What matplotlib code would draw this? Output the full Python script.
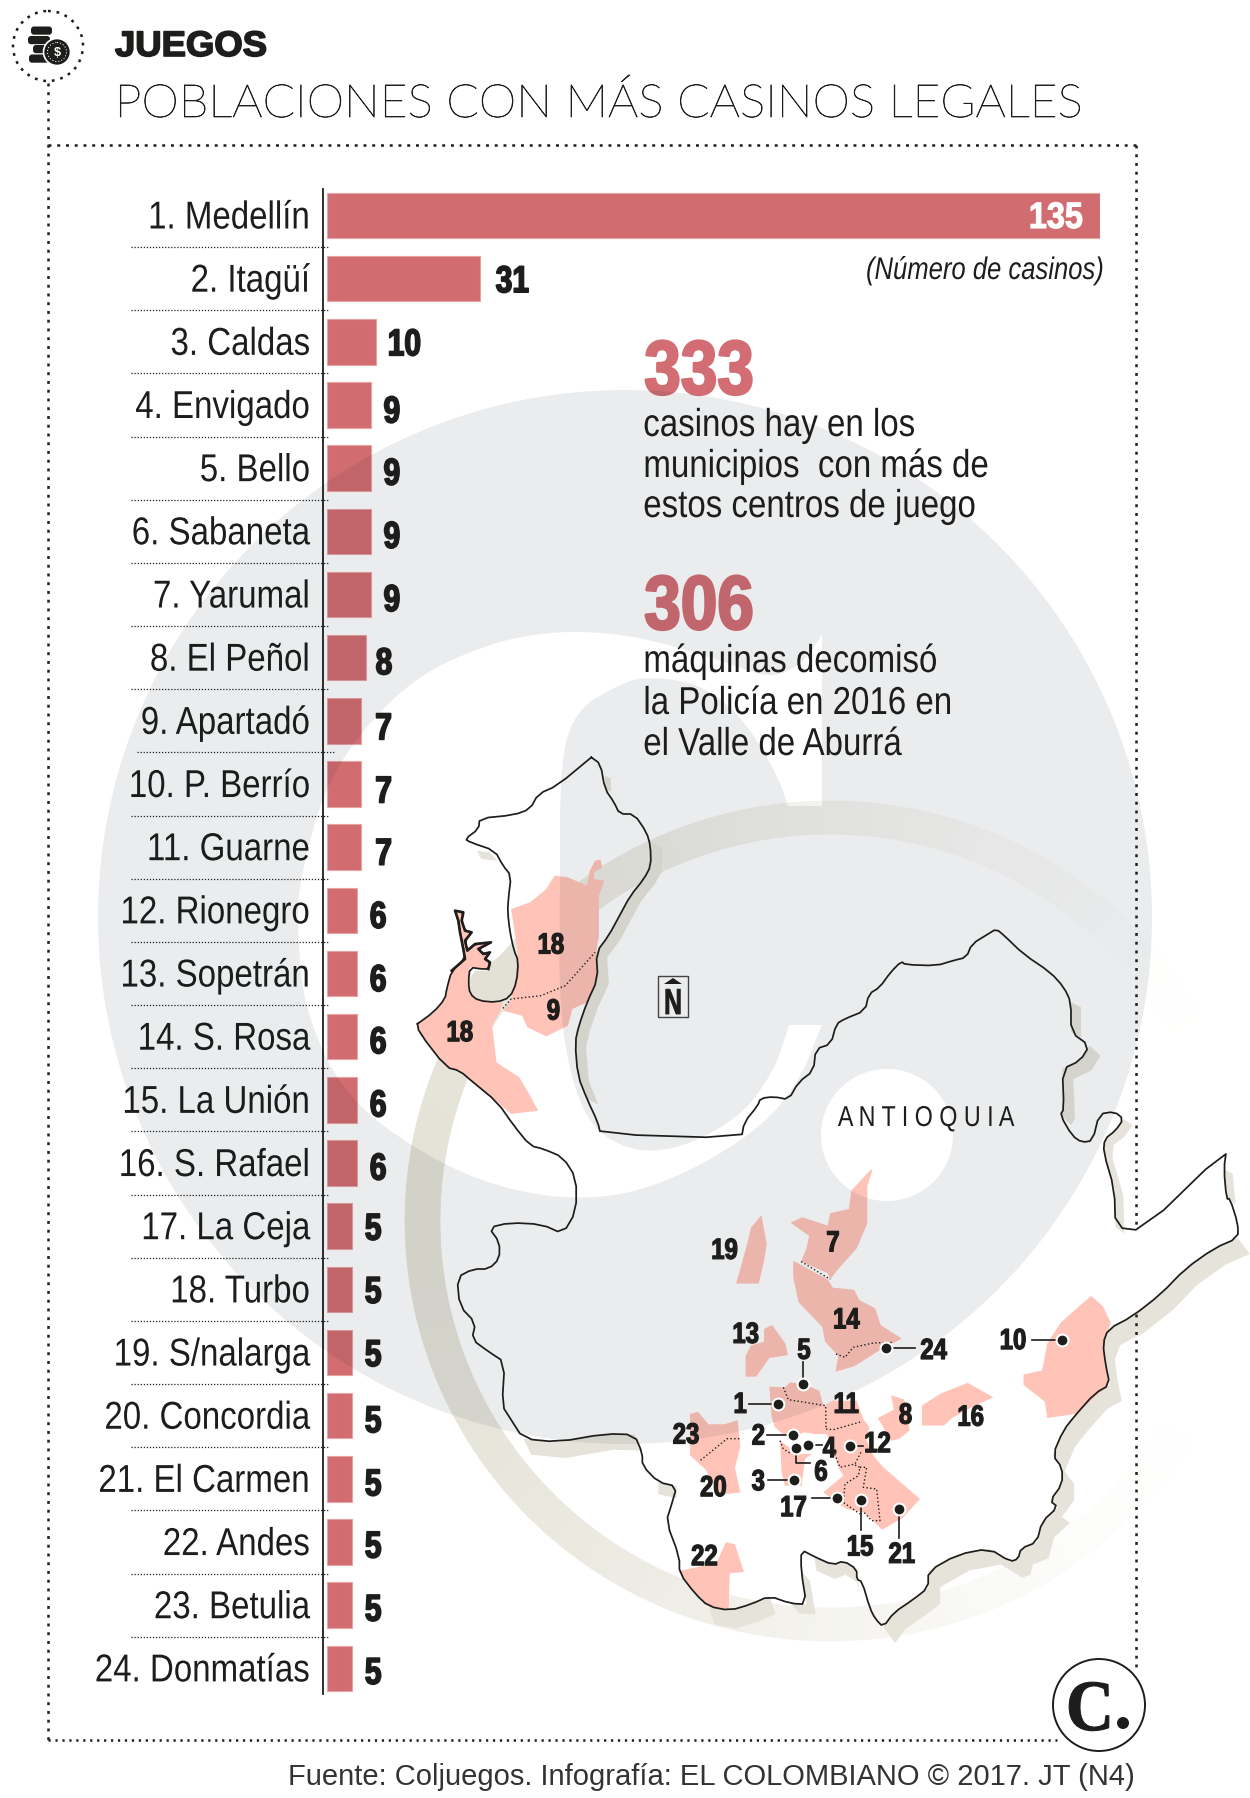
import numpy as np
import matplotlib
matplotlib.use("Agg")
import matplotlib.pyplot as plt
import matplotlib.patheffects as pe
from matplotlib.path import Path
from matplotlib.patches import PathPatch, Polygon, Ellipse, FancyBboxPatch, Rectangle, Circle
from matplotlib.collections import PolyCollection
from matplotlib.transforms import ScaledTranslation, Affine2D

plt.rcParams['lines.scale_dashes'] = False

# ---------- data ----------
towns = ["1. Medellín", "2. Itagüí", "3. Caldas", "4. Envigado", "5. Bello", "6. Sabaneta",
         "7. Yarumal", "8. El Peñol", "9. Apartadó", "10. P. Berrío", "11. Guarne", "12. Rionegro",
         "13. Sopetrán", "14. S. Rosa", "15. La Unión", "16. S. Rafael", "17. La Ceja", "18. Turbo",
         "19. S/nalarga", "20. Concordia", "21. El Carmen", "22. Andes", "23. Betulia", "24. Donmatías"]
casinos = [135, 31, 10, 9, 9, 9, 9, 8, 7, 7, 7, 6, 6, 6, 6, 6, 5, 5, 5, 5, 5, 5, 5, 5]

# ---------- layout ----------
W, H = 1250, 1799
SANS = 'Liberation Sans'
INK = '#1d1d1b'
BAR = '#D16C70'
row_dy = [0, 0, 0, 4, 3, 3, 3, 3, 5, 5, 4, 4, 4, 3, 3, 3, 0, 0, 0, 3, 3, 2, 2, 2]
val_gap = {31: 16, 10: 11, 9: 12, 8: 9, 7: 13.5, 6: 13, 5: 13}

fig = plt.figure(figsize=(W / 100, H / 100), dpi=100, facecolor='white')


class Squeeze(pe.AbstractPathEffect):
    """Draw real text narrower (no condensed face is installed), optionally thickened."""

    def __init__(self, sx, anchor='left', stroke=0.0):
        super().__init__()
        self.sx, self.anchor, self.stroke = sx, anchor, stroke

    def draw_path(self, renderer, gc, tpath, affine, rgbFace=None):
        e = tpath.get_extents(affine)
        fix = {'left': e.x0, 'center': 0.5 * (e.x0 + e.x1), 'right': e.x1}[self.anchor]
        aff = affine + Affine2D().translate(-fix, 0).scale(self.sx, 1).translate(fix, 0)
        if self.stroke:
            g = renderer.new_gc()
            g.copy_properties(gc)
            g.set_linewidth(self.stroke)
            g.set_foreground(rgbFace)
            renderer.draw_path(g, tpath, aff, rgbFace)
            g.restore()
        else:
            renderer.draw_path(gc, tpath, aff, rgbFace)


def px_axes(z):
    a = fig.add_axes([0, 0, 1, 1], zorder=z)
    a.set_xlim(0, W)
    a.set_ylim(H, 0)
    a.axis('off')
    a.patch.set_visible(False)
    return a


ax_under = px_axes(1)
ax_over = px_axes(3)
ax_top = px_axes(4)


def z2(p):
    p = np.array(p, float)
    return np.c_[400 + p[:, 0] / 1.845, 740 + p[:, 1] / 3]


def z3(p):
    p = np.array(p, float)
    return np.c_[420 + p[:, 0] / 1.889, 1150 + p[:, 1] / 2.416]


def cz(p):
    p = np.array(p, float)
    return np.c_[660 + p[:, 0] / 3, 1340 + p[:, 1] / 3]


def dz(p):
    p = np.array(p, float)
    return np.c_[410 + p[:, 0] / 3, 900 + p[:, 1] / 3]


def chaikin(p, n=1):
    p = np.array(p, float)
    for _ in range(n):
        r, q = p[:-1], p[1:]
        mid = np.empty((2 * len(r), 2))
        mid[0::2] = 0.75 * r + 0.25 * q
        mid[1::2] = 0.25 * r + 0.75 * q
        p = np.vstack([p[0], mid, p[-1]])
    return p


# ---------- beige ring ----------
n = 240
th = np.linspace(0, 2 * np.pi, n + 1)
cx, cy = 830, 1222
polys, cols = [], []
beige = np.array(matplotlib.colors.to_rgb('#E4E2D6'))
for t0, t1 in zip(th[:-1], th[1:]):
    q = [(cx + 425 * np.cos(t0), cy + 420 * np.sin(t0)), (cx + 425 * np.cos(t1), cy + 420 * np.sin(t1)),
         (cx + 390 * np.cos(t1), cy + 387 * np.sin(t1)), (cx + 390 * np.cos(t0), cy + 387 * np.sin(t0))]
    xm = cx + 407 * np.cos(t0)
    a = np.clip(1.0 - (xm - 405) / 800, 0, 1) ** 1.2
    polys.append(q)
    cols.append(tuple(1 - a * (1 - beige)))
ax_under.add_collection(PolyCollection(polys, facecolors=cols, edgecolors=cols, linewidths=0.5))

# ---------- map geometry ----------
delta_coast = dz([(22, 375), (70, 340), (105, 300), (110, 270), (125, 215), (165, 180), (160, 150), (150, 100),
                  (145, 65), (135, 35), (160, 40), (155, 65), (165, 95), (185, 100), (165, 125), (172, 155),
                  (195, 135), (243, 130), (205, 150), (220, 165), (240, 160), (225, 180), (240, 190), (235, 210),
                  (215, 210), (180, 205), (175, 250), (180, 285), (205, 305), (260, 310)])
bay_east = dz([(300, 295), (320, 250), (325, 185), (312, 155), (300, 100), (293, 40), (295, 0)])
outline = np.vstack([
    z2([(353, 55), (370, 75), (378, 150), (395, 190), (405, 225), (432, 225), (455, 280), (462, 320), (463, 380),
        (450, 420), (425, 470), (405, 530), (385, 590), (362, 640), (365, 720), (345, 790), (330, 860), (323, 910),
        (328, 1010), (345, 1080), (365, 1150), (370, 1185), (630, 1198), (635, 1150), (660, 1100), (665, 1078),
        (690, 1073), (717, 1082), (735, 1030), (763, 995), (767, 930), (795, 915), (805, 855), (820, 840), (858, 815),
        (865, 765), (885, 745), (905, 700), (925, 667), (932, 677), (990, 680), (1020, 665), (1045, 655), (1055, 615),
        (1085, 585), (1100, 570), (1115, 590), (1150, 645), (1200, 700), (1225, 745), (1238, 790), (1238, 880),
        (1272, 920), (1255, 965), (1222, 990), (1225, 1110), (1218, 1128), (1240, 1190), (1258, 1210), (1278, 1205),
        (1290, 1125), (1318, 1118), (1335, 1140), (1320, 1175), (1300, 1200), (1298, 1240), (1318, 1350), (1320, 1465),
        (1370, 1475), (1525, 1230), (1520, 1290), (1525, 1380)]),
    z3([(1530, 120), (1545, 180), (1545, 215), (1500, 240), (1445, 290), (1400, 350), (1345, 405), (1300, 435),
        (1290, 470), (1295, 520), (1303, 570), (1275, 590), (1240, 640), (1215, 680), (1195, 740), (1213, 770),
        (1213, 810), (1190, 850), (1205, 865), (1175, 900), (1165, 950), (1135, 965), (1130, 990), (1115, 997),
        (1075, 965), (1015, 980), (960, 1020), (960, 1060), (930, 1090), (895, 1120), (875, 1155), (860, 1135),
        (850, 1110), (835, 1045), (825, 1040), (825, 1015), (800, 995), (780, 1005), (745, 985), (720, 968), (720, 1020),
        (730, 1100), (700, 1098), (660, 1080), (625, 1100), (585, 1115), (545, 1105), (520, 1075), (490, 1025),
        (490, 985), (465, 900), (475, 860), (485, 815), (450, 805), (420, 765), (420, 735), (405, 690), (350, 688),
        (260, 708), (195, 700), (170, 650), (155, 620), (160, 515), (130, 490), (98, 460), (105, 420), (75, 380),
        (70, 310), (100, 290), (130, 290), (150, 265), (150, 225), (130, 190), (170, 178), (230, 182), (270, 205),
        (295, 150), (295, 70), (270, 20)]),
    z2([(265, 1230), (240, 1220), (210, 1160), (180, 1090), (135, 1030), (110, 995), (85, 985), (35, 880), (32, 853)]),
    delta_coast, bay_east,
    z2([(205, 410), (190, 380), (175, 335), (130, 310), (120, 300), (145, 270), (147, 238), (210, 228), (240, 210),
        (255, 165), (290, 140), (353, 55)]),
])

pink_regions = [
    z2([(370, 362), (373, 385), (358, 400), (358, 420), (377, 425), (367, 470), (367, 590), (362, 640), (365, 720),
        (345, 790), (318, 810), (310, 860), (270, 892), (235, 865), (225, 830), (190, 815), (205, 780), (213, 720),
        (218, 650), (205, 510), (240, 490), (270, 450), (285, 410), (310, 415), (345, 440), (350, 395), (360, 365)]),
    np.vstack([delta_coast,
               z2([(190, 790), (185, 815), (170, 860), (178, 970), (220, 1015), (240, 1070), (255, 1115), (205, 1125),
                   (180, 1090), (135, 1030), (110, 995), (85, 985), (35, 880)])]),
    z3([(855, 50), (845, 90), (845, 180), (825, 240), (790, 290), (775, 315), (770, 300), (720, 272), (730, 240),
        (735, 210), (700, 178), (722, 165), (770, 185), (775, 155), (810, 145), (815, 100), (850, 52)]),
    z3([(705, 270), (770, 315), (780, 335), (820, 340), (830, 365), (860, 385), (870, 425), (910, 458), (870, 485),
        (820, 525), (785, 538), (790, 500), (765, 465), (760, 430), (715, 370), (705, 310)]),
    z3([(645, 160), (655, 230), (650, 270), (640, 325), (597, 325), (605, 290), (620, 220), (625, 190)]),
    z3([(665, 425), (690, 470), (695, 498), (660, 505), (635, 550), (615, 550), (615, 500), (625, 475), (650, 465),
        (650, 435)]),
    cz([(328, 143), (375, 145), (390, 130), (430, 135), (478, 155), (490, 200), (520, 185), (590, 185), (610, 240),
        (628, 265), (618, 300), (640, 350), (670, 385), (780, 480), (730, 535), (680, 565), (665, 572), (640, 545),
        (610, 520), (560, 510), (530, 490), (490, 460), (550, 410), (535, 385), (520, 335), (500, 285), (465, 285),
        (430, 280), (400, 300), (375, 290), (345, 265), (335, 235)]),
    cz([(360, 305), (415, 345), (455, 345), (435, 360), (425, 440), (375, 440), (365, 400)]),
    z3([(510, 640), (525, 635), (545, 665), (575, 665), (600, 655), (605, 720), (595, 770), (605, 830), (565, 835),
        (540, 775), (510, 740)]),
    z3([(890, 595), (915, 605), (925, 680), (905, 700), (890, 705), (865, 650), (895, 630)]),
    z3([(948, 620), (985, 590), (1035, 565), (1083, 600), (1040, 625), (1005, 650), (990, 668), (948, 668)]),
    z3([(1268, 355), (1290, 380), (1305, 420), (1290, 470), (1300, 570), (1240, 640), (1185, 650), (1180, 610),
        (1140, 570), (1140, 545), (1175, 535), (1185, 470), (1210, 420), (1245, 380)]),
    z3([(578, 950), (595, 955), (612, 1022), (585, 1025), (583, 1115), (545, 1105), (520, 1075), (488, 1020),
        (560, 1000)]),
]

shadow_sections = [
    (z2([(463, 310), (463, 380), (450, 420), (425, 470), (405, 530), (385, 590), (362, 640), (365, 720), (345, 790),
         (330, 860), (323, 910), (328, 1010), (345, 1080)]), 11, 5),
    (z3([(1545, 215), (1500, 240), (1445, 290), (1400, 350), (1345, 405), (1300, 435), (1290, 470), (1295, 520),
         (1303, 570), (1275, 590), (1240, 640), (1215, 680), (1195, 740), (1213, 770), (1213, 810), (1190, 850),
         (1205, 865), (1175, 900), (1165, 950), (1135, 965), (1130, 990), (1115, 997), (1075, 965), (1015, 980),
         (960, 1020), (960, 1060), (930, 1090), (895, 1120), (875, 1155)]), 12, 16),
    (z3([(720, 1020), (730, 1100), (700, 1098)]), 9, 10),
    (z3([(825, 1040), (825, 1015), (800, 995), (780, 1005), (745, 985)]), 2, 14),
    (z3([(660, 1080), (625, 1100), (585, 1115), (545, 1105)]), 6, 18),
    (z3([(405, 690), (350, 688), (260, 708), (195, 700)]), 8, 16),
    (z3([(485, 815), (450, 805)]), 0, 12),
    (z2([(1238, 790), (1238, 880)]), 10, 5),
    (z2([(1272, 920), (1255, 965), (1222, 990), (1225, 1110), (1218, 1128)]), 11, 10),
    (z2([(1335, 1140), (1320, 1175), (1300, 1200), (1298, 1240), (1318, 1350), (1320, 1465)]), 9, 6),
    (z2([(1520, 1290), (1525, 1380)]), 9, 5),
    (z2([(378, 110), (378, 150), (395, 165)]), 6, 3),
]
for sec, dx, dy in shadow_sections:
    ax_under.add_patch(Polygon(np.vstack([sec, (sec + [dx, dy])[::-1]]), closed=True, fc='#E6E4DA', ec='none'))
# sheltered bay and islet
ax_under.add_patch(Polygon(dz([(300, 140), (320, 170), (322, 250), (300, 290), (255, 305), (205, 300), (180, 280),
                               (178, 240), (195, 215), (235, 215), (245, 190), (270, 170)]),
                           closed=True, fc='#E3E1D6', ec='none'))
ax_under.add_patch(Polygon(z2([(142, 335), (165, 340), (180, 365), (150, 360)]), closed=True, fc='#E6E4DA', ec='none'))

for reg in pink_regions:
    ax_under.add_patch(Polygon(reg, closed=True, fc='#FFC3B8', ec='none'))

# big figures sit under the grey veil so they darken over it
for txt, yb in (("333", 395), ("306", 630)):
    ax_under.text(644, yb, txt, family=SANS, weight='bold', fontsize=55, color='#D26E73', va='baseline', ha='left',
                  path_effects=[Squeeze(0.86, 'left', 1.8)])

# ---------- bars ----------
bar_left = 327.0
bar_w = 773.0
row0, pitch = 216.5, 63.17
top = row0 - pitch / 2
bot = row0 + 23.5 * pitch
ax_bar = fig.add_axes([bar_left / W, 1 - bot / H, bar_w / W, (bot - top) / H], zorder=2)
ax_bar.patch.set_visible(False)
# the Medellín bar is drawn out of scale in the source: piecewise-linear value axis
vv = [0, 31, 135]
pp = [0, 152.5, 773]
ax_bar.set_xscale('function', functions=(lambda x: np.interp(x, vv, pp), lambda p: np.interp(p, pp, vv)))
y = np.arange(len(towns))
ax_bar.barh(y, casinos, left=0, height=0.72, color=BAR, edgecolor='#E9A3A3', linewidth=0.8)
ax_bar.set_xlim(0, 135)
ax_bar.set_ylim(23.5, -0.5)
for s in ('top', 'right', 'bottom'):
    ax_bar.spines[s].set_visible(False)
sp = ax_bar.spines['left']
sp.set_linewidth(1.3)
sp.set_color(INK)
sp.set_position(('outward', 3.6 * 0.72))
sp.set_bounds(-0.42, 23.4)
ax_bar.set_xticks([])
ax_bar.set_yticks(y, towns, family=SANS, fontsize=28, color=INK)
ax_bar.tick_params(axis='y', length=0, pad=9.6)
shift = ScaledTranslation(0, -13 / 100, fig.dpi_scale_trans)
for lab in ax_bar.get_yticklabels():
    lab.set_verticalalignment('baseline')
    lab.set_transform(lab.get_transform() + shift)
    lab.set_path_effects([Squeeze(0.85, 'right')])

# separators between rows
for i in range(23):
    yy = row0 + (i + 0.5) * pitch
    x0 = 137 if i == 8 else 131
    ax_top.plot([x0, x0 + 198], [yy, yy], color=INK, lw=0.9, ls=(0, (0.9, 1.3)))

# value labels
ax_top.annotate(str(casinos[0]), xy=(135, 0), xycoords=ax_bar.transData, xytext=(-17 * .72, -12.5 * .72),
                textcoords='offset points', ha='right', va='baseline', family=SANS, weight='bold',
                fontsize=26.5, color='white', path_effects=[Squeeze(0.88, 'right', 0.8)])
for i, (v, dy) in enumerate(zip(casinos, row_dy)):
    if i == 0:
        continue
    ax_top.annotate(str(v), xy=(v, i), xycoords=ax_bar.transData,
                    xytext=(val_gap[v] * .72, -(13.5 + dy) * .72), textcoords='offset points',
                    ha='left', va='baseline', family=SANS, weight='bold', fontsize=27, color=INK,
                    path_effects=[Squeeze(0.8, 'left', 1.2)])

# ---------- grey logo veil ----------
cc = 527
t = np.linspace(0, 2 * np.pi, 361)
disc = np.c_[625 + cc * np.cos(t), 918 + cc * np.sin(t)]
c_outer = chaikin([(822, 635), (807, 660), (780, 677), (757, 675), (707, 657), (640, 638), (583, 632), (533, 635),
                   (483, 647), (417, 677), (360, 733), (323, 793), (300, 880), (297, 925), (304, 1011),
                   (345, 1098), (422, 1155), (498, 1189), (584, 1202), (660, 1187), (747, 1140), (796, 1090),
                   (822, 1026)], 2)
c_inner = chaikin([(789, 1026), (774, 1073), (736, 1123), (660, 1157), (600, 1140), (573, 1090), (559, 1007),
                   (560, 900), (560, 760), (577, 710), (617, 687), (640, 678), (690, 682), (727, 703), (757, 740),
                   (780, 783), (788, 807)], 2)
c_shape = np.vstack([c_outer, c_inner, [(822, 807)], [(822, 635)]])
dot = np.c_[887 + 66 * np.cos(t), 1136 + 66 * np.sin(t)]


def area(p):
    return 0.5 * np.sum(p[:, 0] * np.roll(p[:, 1], -1) - np.roll(p[:, 0], -1) * p[:, 1])


def orient(p, sign):
    return p if np.sign(area(p)) == sign else p[::-1]


verts, codes = [], []
for p in (orient(disc, 1), orient(c_shape, -1), orient(dot, -1)):
    verts += list(p) + [p[0]]
    codes += [Path.MOVETO] + [Path.LINETO] * (len(p) - 1) + [Path.CLOSEPOLY]
ax_over.add_patch(PathPatch(Path(verts, codes), fc=(8 / 255, 20 / 255, 43 / 255, 0.08), ec='none'))

# ---------- map lines ----------
ax_top.plot(*chaikin(outline, 1).T, color=INK, lw=1.25, solid_joinstyle='round')
ax_top.plot(*delta_coast[4:24].T, color=INK, lw=1.9, solid_joinstyle='round')
dot_ls = dict(color=INK, lw=1.0, ls=(0, (1.0, 1.7)))
for seg in [[(720, 272), (775, 315)], [(530, 752), (580, 700), (605, 700)]]:
    ax_top.plot(*z3(seg).T, **dot_ls)
for seg in [[(528, 45), (555, 55), (580, 25), (640, 12), (700, 10)],
            [(370, 145), (385, 182), (497, 200), (498, 270)],
            [(498, 270), (520, 272), (605, 248)],
            [(360, 305), (370, 330), (395, 345)],
            [(520, 335), (540, 385), (585, 375), (605, 335)],
            [(585, 378), (600, 385), (595, 410), (555, 435), (550, 490), (600, 525)],
            [(600, 385), (620, 385), (610, 445), (650, 450), (660, 545), (635, 545), (612, 520)]]:
    ax_top.plot(*cz(seg).T, **dot_ls)
ax_top.plot(*z2([(190, 808), (205, 780), (260, 770), (305, 740), (360, 640)]).T, **dot_ls)

# markers: label, dot, leader points, label centre
markers_cz = [
    ("1", (353, 195), [(268, 195)], (240, 190)),
    ("2", (398, 288), [(322, 288)], (295, 285)),
    ("3", (401, 422), [(325, 422)], (295, 422)),
    ("4", (443, 318), [(485, 318)], (508, 323)),
    ("5", (430, 135), [(430, 70)], (432, 28)),
    ("6", (408, 328), [(408, 372), (450, 372)], (483, 393)),
    ("12", (570, 320), [(608, 320)], (652, 308)),
    ("15", (604, 484), [(604, 572)], (600, 618)),
    ("17", (530, 476), [(455, 476)], (400, 500)),
    ("21", (717, 509), [(717, 598)], (725, 640)),
]
markers_z3 = [
    ("10", (1212, 462), [(1157, 462)], (1120, 458)),
    ("24", (880, 481), [(935, 481)], (970, 482)),
]
labs = []
for group, conv in ((markers_cz, cz), (markers_z3, z3)):
    for lab, d, leader, pos in group:
        ax_top.plot(*conv([d] + leader).T, color=INK, lw=1.2, zorder=2)
        ax_top.plot(*conv([d]).T, 'o', ms=10, mfc='white', mec='none', zorder=3)
        ax_top.plot(*conv([d]).T, 'o', ms=7, mfc=INK, mec='none', zorder=3)
        labs.append((lab, conv([pos])[0]))
plain_z3 = [("7", (780, 222)), ("8", (917, 638)), ("13", (615, 443)), ("14", (805, 408)),
            ("16", (1040, 643)), ("19", (575, 240))]
plain_cz = [("11", (558, 190)), ("20", (160, 440)), ("22", (133, 647)), ("23", (78, 282))]
plain_z2 = [("18", (278, 612)), ("18", (110, 875)), ("9", (283, 810))]
labs += [(l, z3([p])[0]) for l, p in plain_z3] + [(l, cz([p])[0]) for l, p in plain_cz] + \
        [(l, z2([p])[0]) for l, p in plain_z2]
for l, (xx, yy) in labs:
    ax_top.text(xx, yy + 10.5, l, ha='center', va='baseline', family=SANS, weight='bold', fontsize=21, color=INK,
                path_effects=[Squeeze(0.82, 'center', 0.9)])

ax_top.text(926, 1127, "A N T I O Q U I A", ha='center', va='baseline', family=SANS, fontsize=20.7, color=INK,
            path_effects=[Squeeze(0.81, 'center')])

# north sign
ax_top.add_patch(Rectangle((658, 977), 30, 41, fc='none', ec='#444444', lw=1))
ax_top.add_patch(Polygon([(664, 985), (673, 979), (682, 985)], closed=True, fc=INK, ec='none'))
ax_top.text(673, 1015, "N", ha='center', va='baseline', family=SANS, weight='bold', fontsize=26, color=INK,
            path_effects=[Squeeze(0.68, 'center', 0.6)])

# ---------- right-hand notes ----------
ax_top.text(1104, 280, "(Número de casinos)", ha='right', va='baseline', family=SANS, style='italic', fontsize=22.5,
            color=INK, path_effects=[Squeeze(0.82, 'right')])
notes = [("casinos hay en los", 437), ("municipios  con más de", 478), ("estos centros de juego", 518),
         ("máquinas decomisó", 673), ("la Policía en 2016 en", 715), ("el Valle de Aburrá", 756)]
for s, yb in notes:
    ax_top.text(643, yb, s, ha='left', va='baseline', family=SANS, fontsize=28, color=INK,
                path_effects=[Squeeze(0.85, 'left')])

# ---------- header ----------
ax_top.text(115, 57, "JUEGOS", family=SANS, weight='bold', fontsize=25.5, color=INK, va='baseline',
            path_effects=[Squeeze(1.03, 'left', 1.2)])
ax_top.text(115, 118, "POBLACIONES CON MÁS CASINOS LEGALES", family='Lato', weight='light', fontsize=33, color=INK,
            va='baseline', path_effects=[Squeeze(1.04, 'left', 0.5)])

# icon
ax_top.add_patch(Circle((48, 47), 35, fc='none', ec=INK, lw=1.8, ls=(0, (2.0, 4.2))))
for (x0, y0, w) in [(31, 27.5, 21), (28, 37, 22), (33, 46, 18), (29, 55.5, 21)]:
    ax_top.add_patch(FancyBboxPatch((x0, y0), w, 8.2, boxstyle='round,pad=0,rounding_size=3', fc=INK, ec='none'))
ax_top.add_patch(Circle((57, 53), 13.5, fc=INK, ec='white', lw=1.2))
ax_top.add_patch(Circle((57, 53), 9.5, fc='none', ec='white', lw=0.7, ls=(0, (0.8, 1.4))))
ax_top.text(57, 53, "$", ha='center', va='center', family=SANS, weight='bold', fontsize=9, color='white')

# frame
dash = (0, (2.1, 4.2))
for xs, ys in [([48, 48], [84, 1741]), ([48, 1136], [145.5, 145.5]), ([1136, 1136], [145.5, 1227]),
               ([1136, 1136], [1315, 1669])]:
    ax_top.plot(xs, ys, color=INK, lw=1.8, ls=dash, dash_capstyle='butt')
ax_top.plot([48, 1057], [1741, 1741], color=INK, lw=1.8, ls=(0, (1.6, 3.4)), dash_capstyle='butt')

# logo
ax_top.add_patch(Ellipse((1099, 1706), 92, 92, fc='white', ec=INK, lw=1.4))
ax_top.text(1090, 1731, "C", ha='center', va='baseline', family='Liberation Serif', weight='bold', fontsize=52,
            color=INK, path_effects=[Squeeze(0.92, 'center', 0.8)])
ax_top.add_patch(Circle((1123, 1724), 6, fc=INK, ec='none'))

# source
ax_top.text(1135, 1785, "Fuente: Coljuegos. Infografía: EL COLOMBIANO © 2017. JT (N4)", ha='right', va='baseline',
            family=SANS, fontsize=21, color='#333333')

fig.savefig('out.png', dpi=100)
